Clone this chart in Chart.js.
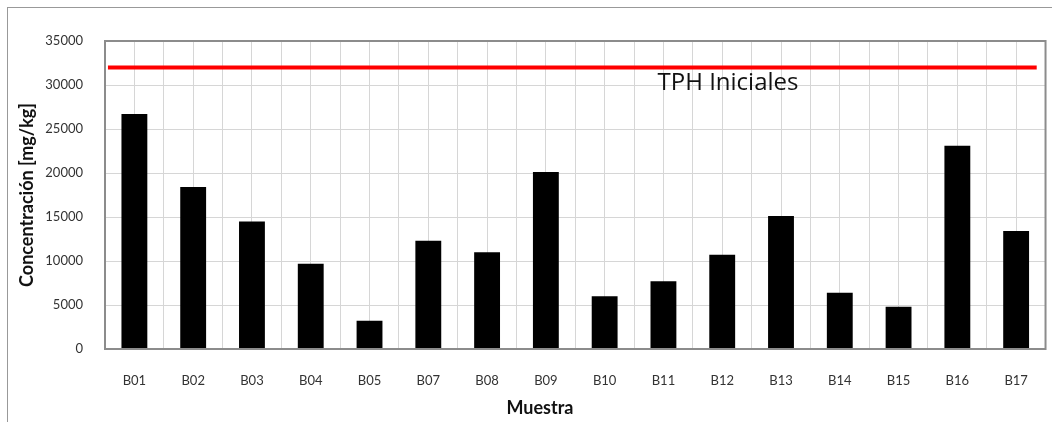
<!DOCTYPE html>
<html>
<head>
<meta charset="utf-8">
<script src="https://cdn.jsdelivr.net/npm/chart.js@4/dist/chart.umd.min.js"></script>
<style>
  html, body { margin: 0; padding: 0; background: #fff; }
  #wrap { position: relative; width: 1052px; height: 422px; overflow: hidden; }
  #frame { position: absolute; left: 7px; top: 7px; width: 1100px; height: 500px;
           border-left: 1px solid #999; border-top: 1px solid #999; }
  canvas { position: absolute; left: 0; top: 0; }
</style>
</head>
<body>
<div id="wrap">
  <div id="frame"></div>
  <canvas id="chart" width="1052" height="422"></canvas>
</div>
<script>
const muestras = ['B01', 'B02', 'B03', 'B04', 'B05', 'B07', 'B08', 'B09',
                  'B10', 'B11', 'B12', 'B13', 'B14', 'B15', 'B16', 'B17'];
const concentracion = [26700, 18400, 14500, 9700, 3200, 12300, 11000, 20100,
                       6000, 7700, 10700, 15100, 6400, 4800, 23100, 13400];
const yTicks = [0, 5000, 10000, 15000, 20000, 25000, 30000, 35000];
const tphLevel = 32000;
const tphLabel = 'TPH Iniciales';
const xTitle = 'Muestra';
// red line extent, in half-category steps (0..32)
const tphSpan = [0.1, 31.7];

const grey = '#d6d6d6';
const tickFont = { family: 'Lato', size: 13 };

// plot frame, line label and x title (sits left of centre in the original)
const plotDecor = {
    id: 'plotDecor',
    afterDatasetsDraw(chart) {
        const { ctx, chartArea: a, scales } = chart;
        ctx.save();
        ctx.strokeStyle = '#8c8c8c';
        ctx.lineWidth = 2;
        ctx.strokeRect(a.left, a.top, a.right - a.left, a.bottom - a.top);
        ctx.fillStyle = '#111';
        ctx.font = '24px "Open Sans"';
        ctx.textBaseline = 'alphabetic';
        ctx.fillText(tphLabel, scales.xg.getPixelForValue(18.8), scales.y.getPixelForValue(tphLevel) + 23);
        ctx.font = 'bold 18px Lato';
        ctx.textAlign = 'center';
        ctx.textBaseline = 'middle';
        ctx.fillText(xTitle, scales.xg.getPixelForValue(14.8), 408);
        ctx.restore();
    }
};

new Chart(document.getElementById('chart'), {
    type: 'bar',
    data: {
        labels: muestras,
        datasets: [
            {
                type: 'line',
                label: tphLabel,
                data: tphSpan.map(x => ({ x, y: tphLevel })),
                xAxisID: 'xg',
                borderColor: '#ff0000',
                borderWidth: 4,
                pointRadius: 0,
                fill: false,
            },
            {
                label: 'Concentración',
                data: concentracion,
                backgroundColor: '#000',
                barPercentage: 0.44,
                categoryPercentage: 1,
                grouped: false,
            },
        ],
    },
    options: {
        responsive: false,
        animation: false,
        layout: { padding: { top: 41, right: 4, left: 0, bottom: 0 } },
        plugins: { legend: { display: false }, tooltip: { enabled: false } },
        scales: {
            x: {
                grid: { display: false, drawTicks: false },
                border: { display: false },
                ticks: { color: '#333', font: tickFont, padding: 24 },
                afterFit: s => { s.height = 73; },
            },
            xg: {
                type: 'linear', position: 'bottom', min: 0, max: 32, offset: false,
                ticks: { display: false, stepSize: 1 },
                grid: { color: grey, drawTicks: false, offset: false },
                border: { display: false },
                afterFit: s => { s.height = 0; },
            },
            y: {
                min: 0, max: 35000,
                afterBuildTicks: s => { s.ticks = yTicks.map(v => ({ value: v })); },
                grid: { color: grey, drawTicks: false },
                border: { display: false },
                ticks: { color: '#333', font: tickFont, padding: 22, callback: v => String(v) },
                title: {
                    display: true, text: 'Concentración [mg/kg]', color: '#111',
                    font: { family: 'Lato', size: 18, weight: 'bold' },
                    padding: { top: 16, bottom: 0 },
                },
                afterFit: s => { s.width = 105; },
            },
        },
    },
    plugins: [plotDecor],
});
</script>
</body>
</html>
